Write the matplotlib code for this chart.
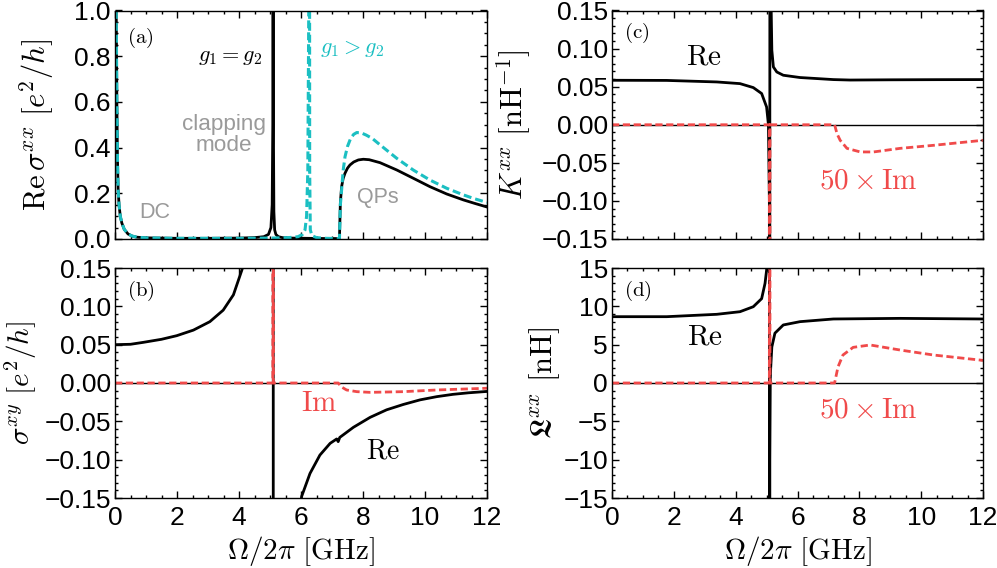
import matplotlib
matplotlib.use("Agg")
import matplotlib.pyplot as plt
from matplotlib.ticker import MultipleLocator, FuncFormatter

plt.rcParams['mathtext.fontset'] = 'cm'
plt.rcParams['font.family'] = ['Liberation Sans', 'DejaVu Sans']
plt.rcParams['axes.unicode_minus'] = True

# ---------------- data ----------------
# panel (a): Re sigma^xx, g1 = g2 (black) and g1 > g2 (cyan)
xa_eq = [0.0, 0.02, 0.04, 0.06, 0.08, 0.10, 0.13, 0.17, 0.22, 0.3, 0.42, 0.55, 0.7, 1.0, 1.5,
         2.0, 3.0, 4.0, 4.5, 4.8, 4.95, 5.03, 5.07, 5.09, 5.1, 5.11, 5.125, 5.15, 5.19, 5.27,
         5.4, 5.7, 6.2, 6.8, 7.2, 7.24, 7.27, 7.31, 7.36, 7.42, 7.5, 7.58, 7.7, 7.85, 8.01,
         8.2, 8.55, 9.09, 9.62, 10.16, 10.7, 11.24, 11.6, 12.0]
ya_eq = [3.0, 1.6, 1.0, 0.6, 0.35, 0.22, 0.15, 0.1, 0.07, 0.042, 0.022, 0.013, 0.008, 0.005,
         0.004, 0.003, 0.003, 0.004, 0.006, 0.01, 0.02, 0.05, 0.15, 0.5, 2.0, 0.5, 0.12, 0.04,
         0.02, 0.01, 0.006, 0.004, 0.003, 0.002, 0.002, 0.0, 0.16, 0.229, 0.265, 0.288, 0.31,
         0.324, 0.337, 0.346, 0.349, 0.347, 0.334, 0.302, 0.266, 0.229, 0.197, 0.171, 0.156, 0.14]
xa_gt = [0.0, 0.02, 0.04, 0.06, 0.08, 0.10, 0.13, 0.17, 0.22, 0.3, 0.42, 0.55, 0.7, 1.0, 1.5,
         2.0, 3.0, 4.0, 5.0, 5.6, 5.9, 6.05, 6.13, 6.18, 6.22, 6.25, 6.27, 6.28, 6.3, 6.35, 6.5,
         6.8, 7.2, 7.24, 7.27, 7.31, 7.36, 7.42, 7.5, 7.6, 7.7, 7.8, 7.95, 8.1, 8.3, 8.55, 9.09,
         9.62, 10.16, 10.7, 11.24, 11.6, 12.0]
ya_gt = [3.0, 1.6, 1.0, 0.6, 0.35, 0.22, 0.15, 0.1, 0.07, 0.042, 0.022, 0.013, 0.008, 0.005,
         0.004, 0.003, 0.003, 0.003, 0.004, 0.006, 0.01, 0.02, 0.04, 0.1, 0.3, 1.0, 3.0, 0.3,
         0.04, 0.015, 0.006, 0.003, 0.002, 0.0, 0.15, 0.215, 0.3, 0.36, 0.405, 0.44, 0.458,
         0.466, 0.464, 0.455, 0.44, 0.412, 0.353, 0.302, 0.258, 0.222, 0.193, 0.176, 0.16]

# panel (b): sigma^xy
xb_re = [0.0, 0.5, 0.91, 1.5, 1.99, 2.53, 3.06, 3.49, 3.82, 4.09, 4.4, 4.7, 4.9, 5.0, 5.06,
         5.09, 5.1, 5.11, 5.2, 5.5, 5.8, 6.02, 6.29, 6.61, 6.94, 7.15, 7.2, 7.25, 7.69, 8.23,
         8.76, 9.3, 9.84, 10.38, 10.9, 11.4, 12.0]
yb_re = [0.05, 0.0505, 0.053, 0.057, 0.0617, 0.069, 0.080, 0.095, 0.115, 0.147, 0.19, 0.3,
         0.6, 1.2, 3.0, 8.0, 30.0, -30.0, -5.0, -0.6, -0.25, -0.148, -0.118, -0.094, -0.0787,
         -0.073, -0.0765, -0.071, -0.0578, -0.0448, -0.035, -0.028, -0.022, -0.0178, -0.0148,
         -0.0128, -0.011]
xb_im = [0.0, 5.09, 5.1, 5.11, 7.2, 7.3, 7.47, 7.8, 8.23, 9.3, 10.38, 11.88, 12.0]
yb_im = [0.0, 0.0, 30.0, 0.0, 0.0, -0.005, -0.0091, -0.0113, -0.0122, -0.0113, -0.0091,
         -0.007, -0.0068]

# panel (c): K^xx
xc_re = [0.0, 1.77, 3.39, 4.14, 4.57, 4.84, 5.0, 5.06, 5.09, 5.1, 5.11, 5.13, 5.17, 5.22,
         5.33, 5.54, 6.08, 7.16, 7.7, 9.0, 10.5, 12.0]
yc_re = [0.0584, 0.0582, 0.0562, 0.054, 0.0488, 0.041, 0.0234, 0.0, -0.1, -3.0, 3.0, 0.2,
         0.0978, 0.0759, 0.0693, 0.065, 0.062, 0.0593, 0.0587, 0.059, 0.0592, 0.0593]
xc_im = [0.0, 5.09, 5.1, 5.11, 7.2, 7.28, 7.38, 7.6, 8.03, 8.46, 9.32, 10.4, 12.0]
yc_im = [0.0, 0.0, -30.0, 0.0, 0.0, -0.012, -0.0204, -0.031, -0.0357, -0.0357, -0.031,
         -0.027, -0.0204]

# panel (d): L^xx
xd_re = [0.0, 1.77, 3.39, 4.14, 4.57, 4.84, 4.95, 5.0, 5.05, 5.08, 5.09, 5.095, 5.105,
         5.12, 5.13, 5.17, 5.27, 5.54, 6.08, 7.16, 9.32, 12.0]
yd_re = [8.65, 8.65, 8.96, 9.3, 9.95, 11.0, 13.0, 14.7, 20.0, 40.0, 300.0, -300.0, -10.0,
         0.5, 1.7, 4.7, 6.5, 7.57, 8.0, 8.35, 8.43, 8.35]
xd_im = [0.0, 5.09, 5.1, 5.11, 7.2, 7.31, 7.47, 7.8, 8.35, 9.32, 10.4, 12.0]
yd_im = [0.0, 0.0, 300.0, 0.0, 0.0, 2.1, 3.65, 4.65, 4.96, 4.3, 3.65, 2.95]

# ---------------- styling ----------------
BLACK = 'black'
CYAN = '#1bbfc2'
RED = '#f04a4a'
GRAY = '#9a9a9a'
LW = 2.0
DASH = (2.6, 1.3)
TICK_FS = 19
YLAB_FS = 22
XLAB_FS = 21


def fmt(nd):
    return FuncFormatter(lambda v, p: (f'{v:.{nd}f}').replace('-', '\u2212')
                         if abs(v) > 1e-12 else f'{0:.{nd}f}')


fig = plt.figure(figsize=(9.97, 5.68), dpi=100)
W, H = 997.0, 568.0


def mkax(l, r, t, b):
    return fig.add_axes([l / W, 1 - b / H, (r - l) / W, (b - t) / H])


ax_a = mkax(115, 487, 10.5, 239)
ax_b = mkax(115, 487, 268, 498)
ax_c = mkax(612, 983, 10.5, 239)
ax_d = mkax(612, 983, 268, 498)

for ax in (ax_a, ax_b, ax_c, ax_d):
    ax.set_xlim(0, 12)
    ax.xaxis.set_major_locator(MultipleLocator(2))
    ax.xaxis.set_minor_locator(MultipleLocator(0.5))
    ax.tick_params(which='both', direction='in', top=True, right=True, width=1.0,
                   labelsize=TICK_FS)
    ax.tick_params(which='major', length=5)
    ax.tick_params(which='minor', length=2.5)
    ax.tick_params(axis='x', pad=6)
    ax.tick_params(axis='y', pad=3)
    for s in ax.spines.values():
        s.set_linewidth(1.0)

for ax in (ax_a, ax_c):
    ax.tick_params(labelbottom=False)

# panel (a)
ax_a.plot(xa_eq, ya_eq, color=BLACK, lw=LW)
ax_a.plot(xa_gt, ya_gt, color=CYAN, lw=LW + 0.2, dashes=DASH)
ax_a.set_ylim(0, 1.0)
ax_a.yaxis.set_major_locator(MultipleLocator(0.2))
ax_a.yaxis.set_minor_locator(MultipleLocator(0.05))
ax_a.yaxis.set_major_formatter(fmt(1))
ax_a.set_ylabel(r'$\mathrm{Re}\,\sigma^{xx}\ [e^2/h]$', fontsize=YLAB_FS)
ax_a.yaxis.set_label_coords(-0.158, 0.5)
ax_a.text(0.4, 0.88, r'$\mathrm{(a)}$', fontsize=15, va='center')
ax_a.text(3.72, 0.80, r'$g_1 = g_2$', fontsize=16, ha='center', va='center', color=BLACK)
ax_a.text(7.65, 0.835, r'$g_1 > g_2$', fontsize=16, ha='center', va='center', color=CYAN)
ax_a.text(3.51, 0.455, 'clapping\nmode', fontsize=16.2, ha='center', va='center',
          color=GRAY, linespacing=1.0)
ax_a.text(1.27, 0.115, 'DC', fontsize=15.5, ha='center', va='center', color=GRAY)
ax_a.text(8.47, 0.18, 'QPs', fontsize=15.5, ha='center', va='center', color=GRAY)

# panel (b)
ax_b.axhline(0, color=BLACK, lw=1.0)
ax_b.plot(xb_re, yb_re, color=BLACK, lw=LW)
ax_b.plot(xb_im, yb_im, color=RED, lw=LW, dashes=DASH)
ax_b.set_ylim(-0.15, 0.15)
ax_b.yaxis.set_major_locator(MultipleLocator(0.05))
ax_b.yaxis.set_minor_locator(MultipleLocator(0.01))
ax_b.yaxis.set_major_formatter(fmt(2))
ax_b.set_ylabel(r'$\sigma^{xy}\ [e^2/h]$', fontsize=21)
ax_b.yaxis.set_label_coords(-0.205, 0.5)
ax_b.text(0.4, 0.12, r'$\mathrm{(b)}$', fontsize=15, va='center')
ax_b.text(6.6, -0.026, r'$\mathrm{Im}$', fontsize=21, ha='center', va='center', color=RED)
ax_b.text(8.65, -0.0896, r'$\mathrm{Re}$', fontsize=20, ha='center', va='center', color=BLACK)
ax_b.set_xlabel(r'$\Omega/2\pi\ [\mathrm{GHz}]$', fontsize=XLAB_FS, va='top')
ax_b.xaxis.set_label_coords(0.5, -0.155)

# panel (c)
ax_c.axhline(0, color=BLACK, lw=1.0)
ax_c.plot(xc_re, yc_re, color=BLACK, lw=LW)
ax_c.plot(xc_im, yc_im, color=RED, lw=LW, dashes=DASH)
ax_c.set_ylim(-0.15, 0.15)
ax_c.yaxis.set_major_locator(MultipleLocator(0.05))
ax_c.yaxis.set_minor_locator(MultipleLocator(0.01))
ax_c.yaxis.set_major_formatter(fmt(2))
ax_c.set_ylabel(r'$K^{xx}\ [\mathrm{nH}^{-1}]$', fontsize=YLAB_FS)
ax_c.yaxis.set_label_coords(-0.213, 0.5)
ax_c.text(0.4, 0.12, r'$\mathrm{(c)}$', fontsize=15, va='center')
ax_c.text(2.96, 0.089, r'$\mathrm{Re}$', fontsize=21, ha='center', va='center', color=BLACK)
ax_c.text(8.27, -0.0729, r'$50\times\mathrm{Im}$', fontsize=21, ha='center', va='center',
          color=RED)

# panel (d)
ax_d.axhline(0, color=BLACK, lw=1.0)
ax_d.plot(xd_re, yd_re, color=BLACK, lw=LW)
ax_d.plot(xd_im, yd_im, color=RED, lw=LW, dashes=DASH)
ax_d.set_ylim(-15, 15)
ax_d.yaxis.set_major_locator(MultipleLocator(5))
ax_d.yaxis.set_minor_locator(MultipleLocator(1))
ax_d.yaxis.set_major_formatter(fmt(0))
ax_d.set_ylabel(r'$\mathfrak{L}^{xx}\ [\mathrm{nH}]$', fontsize=YLAB_FS)
ax_d.yaxis.set_label_coords(-0.135, 0.5)
ax_d.text(0.4, 12.0, r'$\mathrm{(d)}$', fontsize=15, va='center')
ax_d.text(3.0, 6.04, r'$\mathrm{Re}$', fontsize=21, ha='center', va='center', color=BLACK)
ax_d.text(8.28, -3.5, r'$50\times\mathrm{Im}$', fontsize=21, ha='center', va='center',
          color=RED)
ax_d.set_xlabel(r'$\Omega/2\pi\ [\mathrm{GHz}]$', fontsize=XLAB_FS, va='top')
ax_d.xaxis.set_label_coords(0.5, -0.155)

fig.savefig('out.png', dpi=100)
